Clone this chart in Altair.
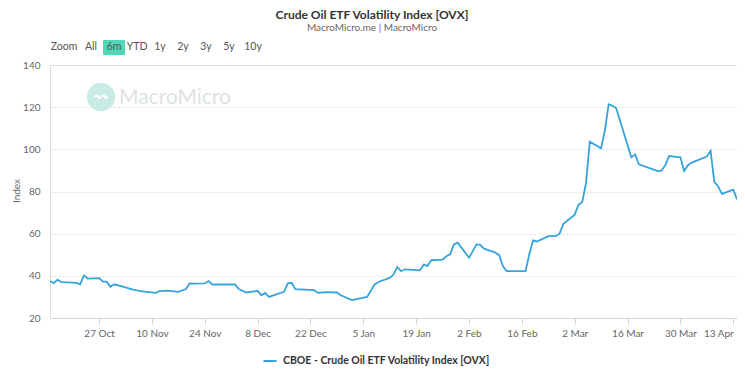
import altair as alt
import pandas as pd

# ---- data ----
dates = [
    "2025-10-14", "2025-10-15", "2025-10-16", "2025-10-17", "2025-10-20", "2025-10-21",
    "2025-10-22", "2025-10-23", "2025-10-24", "2025-10-27", "2025-10-28", "2025-10-29",
    "2025-10-30", "2025-10-31", "2025-11-03", "2025-11-05", "2025-11-07", "2025-11-11",
    "2025-11-12", "2025-11-14", "2025-11-17", "2025-11-19", "2025-11-20", "2025-11-21",
    "2025-11-24", "2025-11-25", "2025-11-26", "2025-12-02", "2025-12-03", "2025-12-05",
    "2025-12-08", "2025-12-09", "2025-12-10", "2025-12-11", "2025-12-15", "2025-12-16",
    "2025-12-17", "2025-12-18", "2025-12-23", "2025-12-24", "2025-12-26", "2025-12-29",
    "2025-12-30", "2026-01-02", "2026-01-06", "2026-01-08", "2026-01-09", "2026-01-12",
    "2026-01-13", "2026-01-14", "2026-01-15", "2026-01-16", "2026-01-20", "2026-01-21",
    "2026-01-22", "2026-01-23", "2026-01-26", "2026-01-27", "2026-01-28", "2026-01-29",
    "2026-01-30", "2026-02-02", "2026-02-04", "2026-02-05", "2026-02-06", "2026-02-09",
    "2026-02-10", "2026-02-11", "2026-02-12", "2026-02-17", "2026-02-18", "2026-02-19",
    "2026-02-20", "2026-02-23", "2026-02-25", "2026-02-26", "2026-02-27", "2026-03-02",
    "2026-03-03", "2026-03-04", "2026-03-05", "2026-03-06", "2026-03-09", "2026-03-10",
    "2026-03-11", "2026-03-12", "2026-03-13", "2026-03-17", "2026-03-18", "2026-03-19",
    "2026-03-24", "2026-03-25", "2026-03-26", "2026-03-27", "2026-03-30", "2026-03-31",
    "2026-04-01", "2026-04-02", "2026-04-06", "2026-04-07", "2026-04-08", "2026-04-09",
    "2026-04-10", "2026-04-13", "2026-04-14",
]
ovx = [
    37.6, 36.5, 38.2, 37.0, 36.8, 36.7,
    36.0, 40.2, 38.7, 38.9, 37.3, 37.3,
    34.8, 36.0, 34.5, 33.5, 32.7, 31.9,
    32.7, 33.0, 32.4, 33.7, 36.4, 36.3,
    36.4, 37.5, 35.9, 35.9, 33.7, 32.1,
    32.9, 30.8, 31.9, 30.0, 32.4, 36.4,
    36.7, 33.7, 33.2, 31.9, 32.3, 32.1,
    30.8, 28.5, 30.0, 35.9, 37.1, 39.0,
    40.6, 44.2, 42.2, 43.1, 42.6, 45.3,
    44.7, 47.4, 47.7, 49.3, 50.2, 54.9,
    55.7, 48.6, 54.9, 54.7, 52.9, 51.0,
    49.8, 44.5, 42.2, 42.3, 50.5, 56.8,
    56.3, 58.8, 58.8, 60.0, 64.7, 69.0,
    73.7, 75.0, 84.0, 103.6, 100.5, 109.0,
    121.4, 120.7, 119.5, 96.2, 97.6, 92.9,
    89.7, 89.9, 92.5, 96.8, 96.2, 89.7,
    92.5, 93.7, 96.6, 99.3, 84.4, 82.5,
    78.9, 80.9, 76.2,
]
series_name = "CBOE - Crude Oil ETF Volatility Index [OVX]"
y_ticks = [20, 40, 60, 80, 100, 120, 140]
x_ticks = [(2025, 10, 27), (2025, 11, 10), (2025, 11, 24), (2025, 12, 8), (2025, 12, 22),
           (2026, 1, 5), (2026, 1, 19), (2026, 2, 2), (2026, 2, 16), (2026, 3, 2),
           (2026, 3, 16), (2026, 3, 30), (2026, 4, 13)]
buttons = ["Zoom", "All", "6m", "YTD", "1y", "2y", "3y", "5y", "10y"]
button_x = [14, 41, 64, 87, 110, 133, 156, 179, 203]

LINE = "#36a3dc"
FONT = "Lato"

df = pd.DataFrame({"date": pd.to_datetime(dates), "value": ovx, "series": series_name})

x_enc = alt.X(
    "date:T",
    title=None,
    scale=alt.Scale(domain=[alt.DateTime(year=2025, month=10, date=14),
                            alt.DateTime(year=2026, month=4, date=14)], nice=False),
    axis=alt.Axis(
        values=[alt.DateTime(year=a, month=b, date=c) for a, b, c in x_ticks],
        format="%-d %b", grid=False, domainColor="#cfd6de", tickColor="#cfd6de",
        tickSize=6, labelPadding=4, labelFontSize=10, labelColor="#666666",
        labelFont=FONT, labelFlush=6,
    ),
)
y_enc = alt.Y(
    "value:Q",
    title=None,
    scale=alt.Scale(domain=[20, 140], nice=False, zero=False),
    axis=alt.Axis(
        values=y_ticks, domain=False, ticks=False, labelPadding=10,
        labelFontSize=10, labelColor="#666666", labelFont=FONT,
        gridColor="#dedede", gridDash=[2, 2], gridWidth=1,
    ),
)

line = alt.Chart(df).mark_line(strokeWidth=1.8).encode(
    x=x_enc,
    y=y_enc,
    color=alt.Color(
        "series:N",
        scale=alt.Scale(range=[LINE]),
        legend=alt.Legend(
            title=None, orient="none", legendX=212, legendY=288,
            symbolType="stroke", symbolSize=170, symbolStrokeWidth=2,
            labelFontWeight="bold", labelFontSize=10.5, labelColor="#333333",
            labelFont=FONT, labelOffset=5, labelLimit=0,
        ),
    ),
)

one = pd.DataFrame({"k": [0]})

title = alt.Chart(one).mark_text(
    text="Crude Oil ETF Volatility Index [OVX]", fontWeight="bold", fontSize=12,
    font=FONT, color="#333333", align="center", baseline="middle",
).encode(x=alt.value(322), y=alt.value(-50))

subtitle = alt.Chart(one).mark_text(
    text="MacroMicro.me | MacroMicro", fontSize=10, font=FONT, color="#666666",
    align="center", baseline="middle",
).encode(x=alt.value(322), y=alt.value(-37))

btn_df = pd.DataFrame({"label": buttons, "bx": button_x})
btn_bg = alt.Chart(one).mark_rect(color="#4fd8b5", cornerRadius=1).encode(
    x=alt.value(53), x2=alt.value(75), y=alt.value(-25), y2=alt.value(-10)
)
btn_text = alt.Chart(btn_df).mark_text(
    fontSize=10.5, font=FONT, color="#555555", align="center", baseline="middle"
).encode(
    x=alt.X("bx:Q", scale=None),
    y=alt.value(-18),
    text="label:N",
)

logo = alt.Chart(one).mark_point(
    shape="circle", filled=True, size=800, color="#c8ece5", opacity=1
).encode(x=alt.value(51), y=alt.value(32))
logo_icon = alt.Chart(one).mark_text(
    text="〰", fontSize=14, color="#ffffff", align="center", baseline="middle", font=FONT
).encode(x=alt.value(51), y=alt.value(32))
wm = alt.Chart(one).mark_text(
    text="MacroMicro", fontSize=21, font=FONT, color="#dde3e3",
    align="left", baseline="middle",
).encode(x=alt.value(69), y=alt.value(33))

ytitle = alt.Chart(one).mark_text(
    text="Index", fontSize=10, font=FONT, color="#666666", angle=270,
    align="center", baseline="middle",
).encode(x=alt.value(-33), y=alt.value(126))

chart = alt.layer(
    logo, logo_icon, wm, title, subtitle, btn_bg, btn_text, ytitle, line
).properties(
    width=687, height=253,
    padding={"left": 42, "top": 57, "right": 0, "bottom": 50},
    autosize=alt.AutoSizeParams(type="none"),
).configure_view(stroke=None).configure(background="white")

chart.save("out.html", embed_options={"renderer": "svg", "actions": False})
